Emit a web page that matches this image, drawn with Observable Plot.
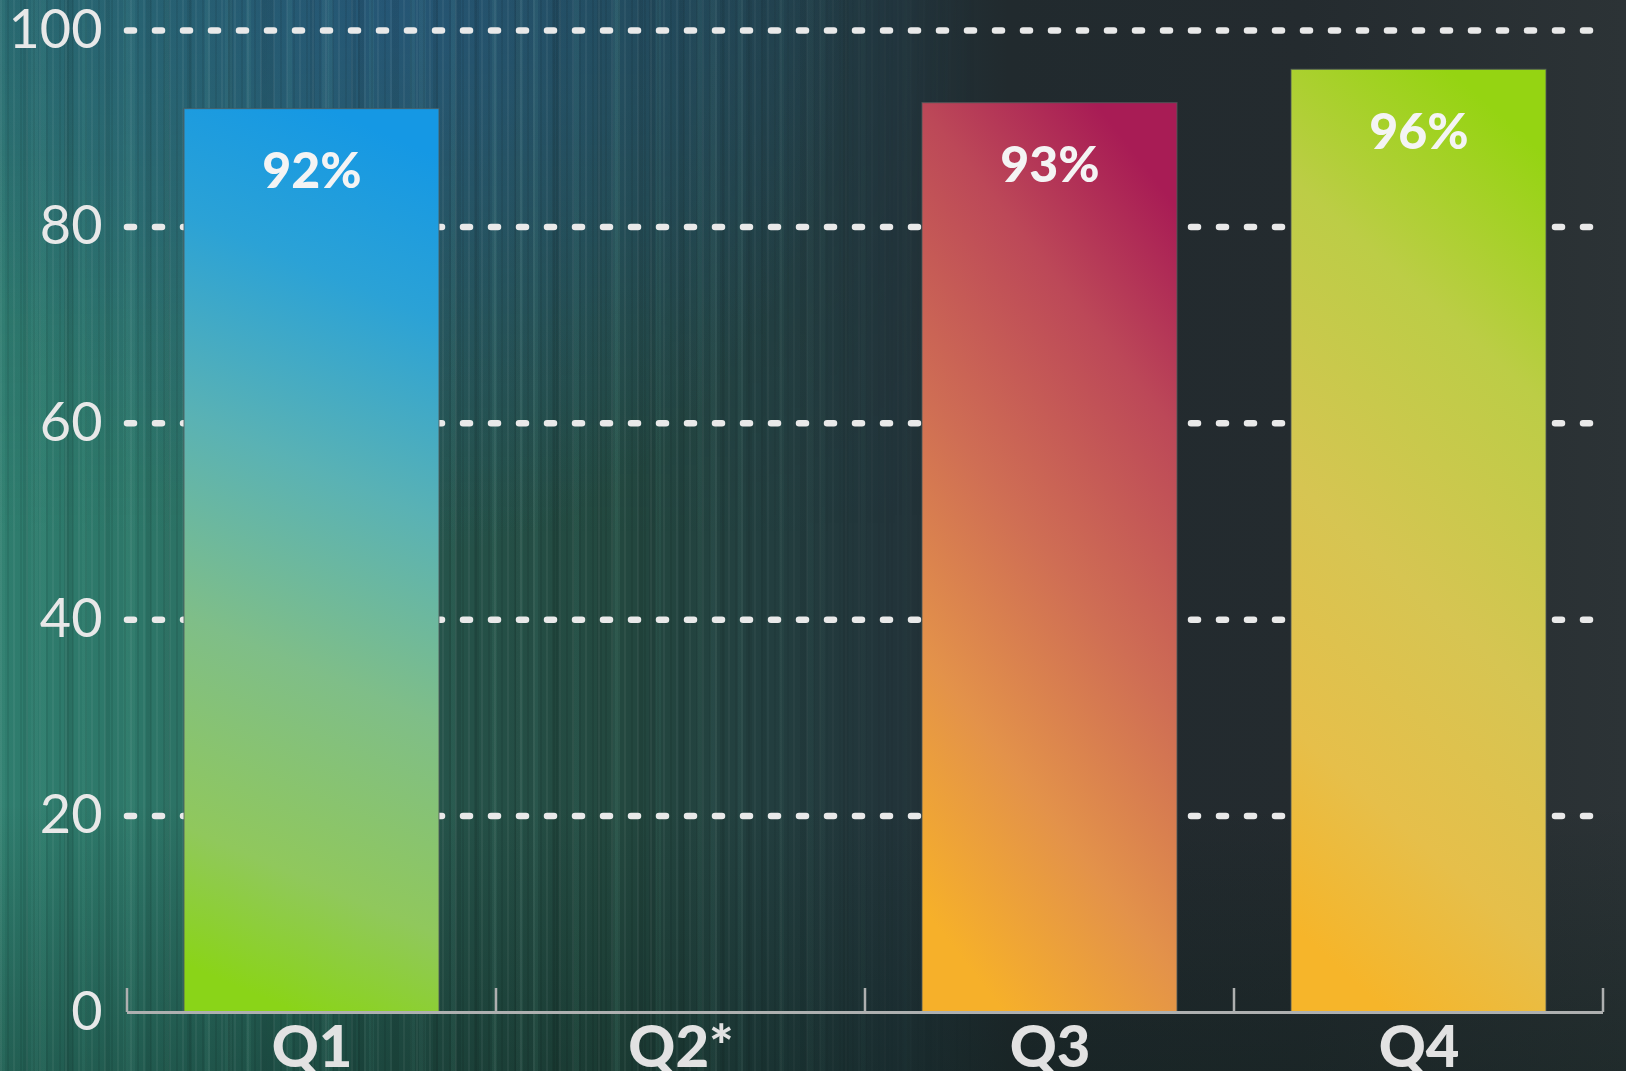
<!DOCTYPE html>
<html>
<head>
<meta charset="utf-8">
<script src="https://cdn.jsdelivr.net/npm/d3@7"></script>
<script src="https://cdn.jsdelivr.net/npm/@observablehq/plot@0.6"></script>
<style>
  html, body { margin: 0; padding: 0; }
  body { width: 1626px; height: 1071px; overflow: hidden; position: relative;
    background:
      radial-gradient(ellipse 460px 560px at 24% 0%, rgba(45,100,150,0.6), rgba(45,100,150,0) 100%),
      linear-gradient(to bottom, rgba(5,25,20,0) 0%, rgba(5,25,20,0) 75%, rgba(5,25,20,0.3) 100%),
      linear-gradient(90deg, #2f7d6e 0%, #2d7668 9%, #286459 18%, #255249 28%, #23483f 38%, #234040 46%, #22343a 55%, #212a2e 62%, #242b2f 80%, #2c3336 100%);
  }
  #streaks { position: absolute; left: 0; top: 0; width: 1626px; height: 1071px;
    background:
      repeating-linear-gradient(90deg, rgba(255,255,255,0.05) 0 2px, rgba(0,0,0,0) 2px 7px, rgba(0,0,0,0.07) 7px 9px, rgba(0,0,0,0) 9px 13px),
      repeating-linear-gradient(90deg, rgba(130,230,200,0.06) 0 5px, rgba(0,0,0,0) 5px 23px, rgba(0,0,0,0.07) 23px 28px, rgba(0,0,0,0) 28px 41px),
      repeating-linear-gradient(90deg, rgba(0,0,0,0) 0 31px, rgba(140,220,200,0.06) 31px 38px, rgba(0,0,0,0) 38px 67px, rgba(0,0,0,0.08) 67px 73px, rgba(0,0,0,0) 73px 97px),
      linear-gradient(to bottom, rgba(30,70,110,0.35) 0%, rgba(30,70,100,0.1) 30%, rgba(0,0,0,0) 50%);
    -webkit-mask-image: linear-gradient(90deg, #000 0%, #000 40%, rgba(0,0,0,0.4) 52%, transparent 60%);
    mask-image: linear-gradient(90deg, #000 0%, #000 40%, rgba(0,0,0,0.4) 52%, transparent 60%);
  }
  #chart { position: absolute; left: 0; top: 0; }
  #chart svg { display: block; }
</style>
</head>
<body>
<div id="streaks"></div>
<div id="chart"></div>
<script>
// ---- data ----
const quarters = ["Q1", "Q2*", "Q3", "Q4"];
const values = [92, null, 92.6, 96];
const yTicks = [0, 20, 40, 60, 80, 100];
const gridValues = [20, 40, 60, 80, 100];

// ---- styles (gradients per quarter) ----
const gradients = {
  "Q1":  {id: "gq1", dir: [0.56, 0.44], stops: [[0, "#1598e4"], [0.18, "#2ba2d6"], [0.4, "#5ab2b4"], [0.62, "#7fbe88"], [0.85, "#90c85c"], [1, "#8ad418"]]},
  "Q2*": {id: "gq2", dir: [0.5, 0.5], stops: [[0, "#888"], [1, "#888"]]},
  "Q3":  {id: "gq3", dir: [0.68, 0.32], stops: [[0, "#a81c55"], [0.22, "#bc4858"], [0.5, "#cf6e54"], [0.75, "#e3924a"], [1, "#f6b02a"]]},
  "Q4":  {id: "gq4", dir: [0.62, 0.38], stops: [[0, "#95d412"], [0.25, "#bccd46"], [0.55, "#d6c552"], [0.8, "#e6bf4a"], [1, "#f6b52a"]]}
};

const data = quarters.map((q, i) => ({quarter: q, value: values[i]}));
const present = data.filter(d => d.value != null);

const W = 1626, H = 1071;
const mL = 127, mR = 23, mT = 30, mB = 59;
const pInner = 0.31, pOuter = 0.155;

const chart = Plot.plot({
  width: W, height: H,
  marginTop: mT, marginBottom: mB, marginLeft: mL, marginRight: mR,
  style: {background: "transparent", overflow: "visible", fontFamily: "Lato, 'Open Sans', sans-serif"},
  x: {domain: quarters, paddingInner: pInner, paddingOuter: pOuter, label: null},
  y: {domain: [0, 100], label: null},
  color: {domain: quarters, range: quarters.map(q => `url(#${gradients[q].id})`)},
  marks: [
    Plot.ruleY(gridValues, {stroke: "#e9e9e9", strokeWidth: 6.5, strokeDasharray: "7,21", strokeLinecap: "round", dx: 0}),
    Plot.barY(present, {x: "quarter", y: "value", fill: "quarter", stroke: "rgba(80,90,90,0.7)", strokeWidth: 1.2}),
    Plot.ruleY([0], {stroke: "#aeb0b0", strokeWidth: 3}),
    Plot.axisY({ticks: yTicks, tickSize: 0, tickPadding: 25, fontSize: 54, fontWeight: 400, fill: "#e8e8e8", label: null}),
    Plot.axisX({tickSize: 0, tickPadding: 13, fontSize: 58, fontWeight: 900, fill: "#e2e2e2", label: null}),
    Plot.text(present, {x: "quarter", y: "value", text: d => `${Math.round(d.value)}%`, dy: 63, fontSize: 50, fontWeight: 900, fill: "#f4f4f4"})
  ]
});

// gradient definitions
const svg = d3.select(chart);
const defs = svg.insert("defs", ":first-child");
for (const q of quarters) {
  const [gx1, gx2] = gradients[q].dir;
  const g = defs.append("linearGradient").attr("id", gradients[q].id)
    .attr("x1", gx1).attr("y1", 0).attr("x2", gx2).attr("y2", 1);
  for (const [o, c] of gradients[q].stops) g.append("stop").attr("offset", o).attr("stop-color", c);
}

// band-boundary ticks on the x axis, from the library's x scale
const xs = chart.scale("x");
const ys = chart.scale("y");
const n = quarters.length;
const r0 = xs.range[0], r1 = xs.range[1];
const step = xs.step ?? (r1 - r0) / (n - pInner + 2 * pOuter);
const start = r0 + (pOuter - pInner / 2) * step;
const y0 = ys.apply(0);
svg.append("g").selectAll("line").data(d3.range(n + 1)).join("line")
  .attr("x1", i => start + i * step).attr("x2", i => start + i * step)
  .attr("y1", y0).attr("y2", y0 - 24)
  .attr("stroke", "#aeb0b0").attr("stroke-width", 2.5);

document.getElementById("chart").append(chart);
</script>
</body>
</html>
